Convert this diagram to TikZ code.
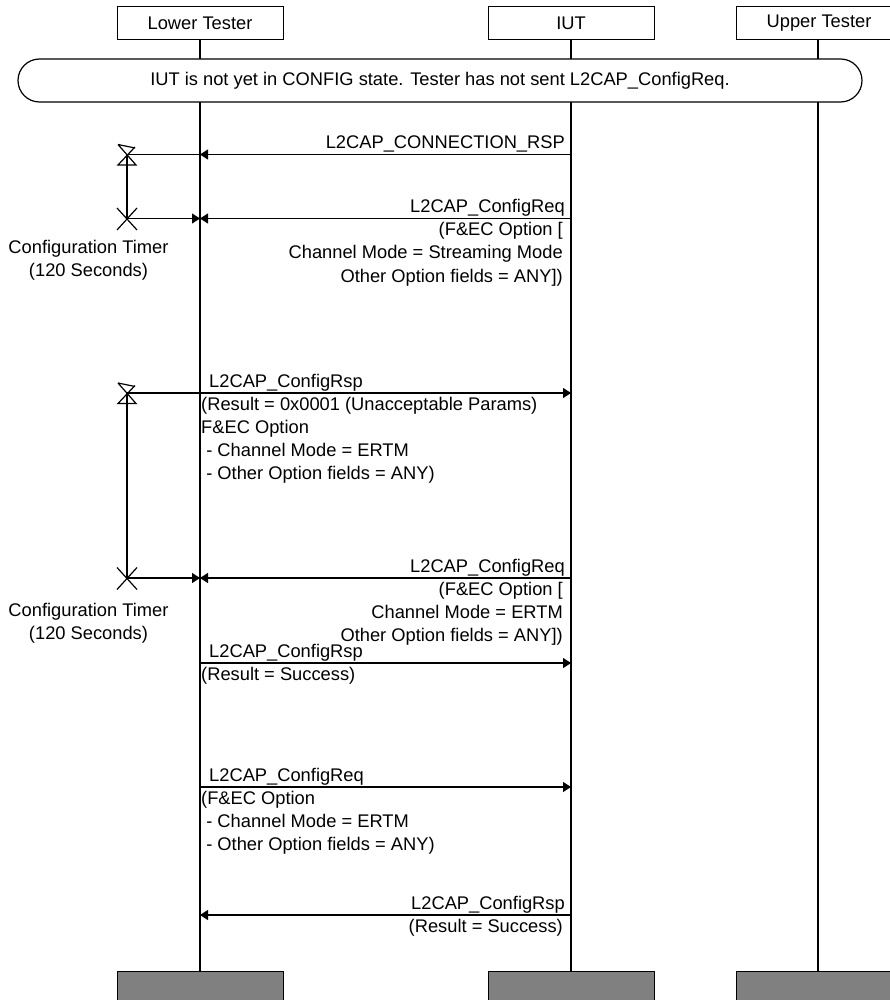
\documentclass[tikz,border=0pt]{standalone}
\usepackage{fontspec}
\setmainfont{Liberation Sans}
\usetikzlibrary{arrows.meta}
\definecolor{footgray}{RGB}{128,128,128}
\begin{document}
\begin{tikzpicture}[x=1pt,y=-1pt,
  every node/.style={font=\fontsize{18.3}{23.3}\selectfont, inner sep=0pt},
  hdr/.style={draw, line width=1pt, minimum width=166pt, minimum height=33pt, anchor=north},
  foot/.style={draw, line width=1pt, fill=footgray, minimum width=166pt, minimum height=40pt, anchor=north},
  life/.style={line width=1.6pt},
  msg/.style={line width=1.2pt, -{Triangle[length=8pt,width=10pt]}},
  tmr/.style={line width=1.2pt},
  lbl/.style={anchor=base west},
  lblr/.style={anchor=base east},
  tlbl/.style={anchor=base}]
\useasboundingbox (0,0) rectangle (890,1000);
% headers
\node[hdr] (lt) at (200,6) {Lower Tester};
\node[hdr] (iut) at (571,6) {IUT};
\node[hdr] (ut) at (819,6) {Upper Tester};
% footers
\node[foot] (ltb) at (200,971) {};
\node[foot] (iutb) at (571,971) {};
\node[foot] (utb) at (819,971) {};
% lifelines
\draw[life] (lt.south) -- (ltb.north);
\draw[life] (iut.south) -- (iutb.north);
\draw[life] ([xshift=-1pt]ut.south) -- ([xshift=-1pt]utb.north);
% banner
\node[draw, fill=white, line width=1.2pt, rounded corners=21.5pt, minimum width=844pt, minimum height=43pt] (ban) at (440,80.5) {IUT is not yet in CONFIG state. Tester has not sent L2CAP\_ConfigReq.};

% message 1
\coordinate (m1i) at (571,154.5);
\coordinate (m1l) at (200,154.5);
\draw[msg] (m1i) -- (m1l);
\node[lblr] (m1t) at (565,148.5) {L2CAP\_CONNECTION\_RSP};

% timer 1
\coordinate (t1s) at (127,154.5);
\coordinate (t1e) at (127,218.5);
\draw[tmr] (t1s) -- (m1l);
\draw[tmr] (118,144.5) -- (135,148) (118,144.5) -- (136,165) -- (118,165) -- (135,147);
\draw[tmr] (t1s) -- (t1e);
\draw[tmr] (117,208) -- (137,230) (117,230) -- (137,208);
\coordinate (m2l) at (200,218.5);
\draw[msg] (t1e) -- (m2l);
\node[tlbl] (t1a) at (88.5,253) {Configuration Timer};
\node[tlbl] (t1b) at (88.5,276.3) {(120 Seconds)};

% message 2
\coordinate (m2i) at (571,218.5);
\draw[msg] (m2i) -- (m2l);
\node[lblr] (m2t) at (565,212.5) {L2CAP\_ConfigReq};
\node[lblr] (m2a) at (563,235.5) {(F\&EC Option [};
\node[lblr] (m2b) at (563,258.8) {Channel Mode = Streaming Mode};
\node[lblr] (m2c) at (563,282.1) {Other Option fields = ANY])};

% message 3 + timer 2
\coordinate (m3l) at (200,393);
\coordinate (m3i) at (571,393);
\coordinate (t2s) at (127,393);
\coordinate (t2e) at (127,578);
\draw[tmr] (t2s) -- (m3l);
\draw[msg] (m3l) -- (m3i);
\node[lbl] (m3t) at (209,387) {L2CAP\_ConfigRsp};
\node[lbl] (m3a) at (201,410) {(Result = 0x0001 (Unacceptable Params)};
\node[lbl] (m3b) at (201,433.3) {F\&EC Option};
\node[lbl] (m3c) at (201,456.6) {\ - Channel Mode = ERTM};
\node[lbl] (m3d) at (201,479.9) {\ - Other Option fields = ANY)};
\draw[tmr] (118,383) -- (135,386.5) (118,383) -- (136,403.5) -- (118,403.5) -- (135,385.5);
\draw[tmr] (t2s) -- (t2e);
\draw[tmr] (117,567.5) -- (137,589.5) (117,589.5) -- (137,567.5);
\coordinate (m4l) at (200,578);
\draw[msg] (t2e) -- (m4l);
\node[tlbl] (t2a) at (88.5,616) {Configuration Timer};
\node[tlbl] (t2b) at (88.5,639.3) {(120 Seconds)};

% message 4
\coordinate (m4i) at (571,578);
\draw[msg] (m4i) -- (m4l);
\node[lblr] (m4t) at (565,572) {L2CAP\_ConfigReq};
\node[lblr] (m4a) at (563,595) {(F\&EC Option [};
\node[lblr] (m4b) at (563,618.3) {Channel Mode = ERTM};
\node[lblr] (m4c) at (563,641.6) {Other Option fields = ANY])};

% message 5
\coordinate (m5l) at (200,663);
\coordinate (m5i) at (571,663);
\draw[msg] (m5l) -- (m5i);
\node[lbl] (m5t) at (209,657) {L2CAP\_ConfigRsp};
\node[lbl] (m5a) at (201,680) {(Result = Success)};

% message 6
\coordinate (m6l) at (200,787);
\coordinate (m6i) at (571,787);
\draw[msg] (m6l) -- (m6i);
\node[lbl] (m6t) at (209,781) {L2CAP\_ConfigReq};
\node[lbl] (m6a) at (201,804) {(F\&EC Option};
\node[lbl] (m6b) at (201,827.3) {\ - Channel Mode = ERTM};
\node[lbl] (m6c) at (201,850.6) {\ - Other Option fields = ANY)};

% message 7
\coordinate (m7i) at (571,915);
\coordinate (m7l) at (200,915);
\draw[msg] (m7i) -- (m7l);
\node[lblr] (m7t) at (565,909) {L2CAP\_ConfigRsp};
\node[lblr] (m7a) at (563,932) {(Result = Success)};
\end{tikzpicture}
\end{document}
